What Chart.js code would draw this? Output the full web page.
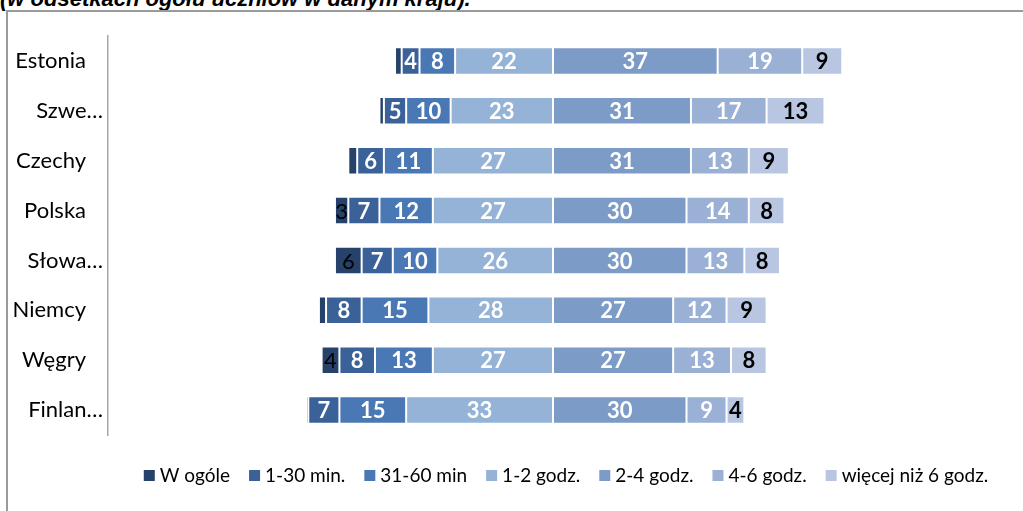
<!DOCTYPE html>
<html>
<head>
<meta charset="utf-8">
<script src="https://cdn.jsdelivr.net/npm/chart.js@4/dist/chart.umd.min.js"></script>
<style>
  html, body { margin: 0; padding: 0; background: #fff; overflow: hidden; width: 1023px; height: 511px; }
  #title { position: absolute; left: 0px; top: -12px; font: bold italic 22px "Liberation Sans", Arial, sans-serif; line-height: 22px; white-space: nowrap; color: #000; }
  #frame { position: absolute; left: 6px; top: 10px; width: 1040px; height: 540px; border: 2px solid #9a9a9a; box-sizing: border-box; }
  #c { position: absolute; left: 0; top: 0; }
</style>
</head>
<body>
<div id="title">(w odsetkach ogółu uczniów w danym kraju).</div>
<div id="frame"></div>
<canvas id="c" width="1023" height="511"></canvas>
<script>
// ---- data ----
const categories = ["Estonia", "Szwecja", "Czechy", "Polska", "Słowacja", "Niemcy", "Węgry", "Finlandia"];
const tickLabels = ["Estonia", "Szwe…", "Czechy", "Polska", "Słowa…", "Niemcy", "Węgry", "Finlan…"];
const seriesNames = ["W ogóle", "1-30 min.", "31-60 min", "1-2 godz.", "2-4 godz.", "4-6 godz.", "więcej niż 6 godz."];
const wOgole   = [1.5, 1, 2, 3, 6, 1.6, 4, 0.5];
const min1_30  = [4, 5, 6, 7, 7, 8, 8, 7];
const min31_60 = [8, 10, 11, 12, 10, 15, 13, 15];
const godz1_2  = [22, 23, 27, 27, 26, 28, 27, 33];
const godz2_4  = [37, 31, 31, 30, 30, 27, 27, 30];
const godz4_6  = [19, 17, 13, 14, 13, 12, 13, 9];
const godz6plus = [9, 13, 9, 8, 8, 9, 8, 4];
const seriesColors = ["#27426a", "#3a6299", "#4a78b4", "#95b3d7", "#7d9bc7", "#9bb0d5", "#b8c6e2"];
const labelColors = ["#000000", "#ffffff", "#ffffff", "#ffffff", "#ffffff", "#ffffff", "#000000"];
const labelWeights = ["normal", "bold", "bold", "bold", "bold", "bold", "bold"];
const xMin = -100, xMax = 100;

const seriesValues = [wOgole, min1_30, min31_60, godz1_2, godz2_4, godz4_6, godz6plus];
const leftSide = [true, true, true, true, false, false, false];

// stacking order: nearest to zero first
const stackOrder = [3, 2, 1, 0, 4, 5, 6];
const datasets = stackOrder.map(i => ({
  label: seriesNames[i],
  seriesIndex: i,
  data: seriesValues[i].map(v => leftSide[i] ? -v : v),
  backgroundColor: seriesColors[i],
  borderColor: "rgba(255,255,255,0.45)",
  borderWidth: 1,
  borderSkipped: false,
  barPercentage: 0.55,
  categoryPercentage: 1.0
}));

const FONT = "Lato, 'Open Sans', sans-serif";

const labelPlugin = {
  id: "customLabels",
  afterDatasetsDraw(chart) {
    const ctx = chart.ctx;
    ctx.save();
    ctx.textAlign = "center";
    ctx.textBaseline = "middle";
    chart.data.datasets.forEach((ds, di) => {
      const meta = chart.getDatasetMeta(di);
      const si = ds.seriesIndex;
      meta.data.forEach((el, j) => {
        const v = Math.abs(ds.data[j]);
        if (v < 3) return;
        const cx = (el.x + el.base) / 2;
        ctx.font = labelWeights[si] + " 22px " + FONT;
        ctx.fillStyle = labelColors[si];
        ctx.fillText(String(Math.round(v)), cx, el.y + 1);
      });
    });
    // category labels
    const ys = chart.scales.y;
    ctx.font = "22px " + FONT;
    ctx.fillStyle = "#000";
    ctx.textAlign = "right";
    tickLabels.forEach((t, j) => {
      const y = ys.getPixelForValue(j);
      const rx = t.endsWith("…") ? 103 : 86;
      ctx.fillText(t, rx, y);
    });
    // legend
    ctx.font = "19px " + FONT;
    ctx.textAlign = "left";
    const box = 11, gap = 5, itemGap = 19;
    let total = 0;
    const widths = seriesNames.map(n => ctx.measureText(n).width);
    widths.forEach((w, i) => { total += box + gap + w + (i < widths.length - 1 ? itemGap : 0); });
    let x = 566 - total / 2;
    const ly = 475.5;
    seriesNames.forEach((n, i) => {
      ctx.fillStyle = seriesColors[i];
      ctx.fillRect(x, ly - box / 2, box, box);
      ctx.fillStyle = "#000";
      ctx.fillText(n, x + box + gap, ly);
      x += box + gap + widths[i] + itemGap;
    });
    ctx.restore();
  }
};

new Chart(document.getElementById("c"), {
  type: "bar",
  data: { labels: categories, datasets },
  options: {
    indexAxis: "y",
    responsive: false,
    animation: false,
    devicePixelRatio: 1,
    layout: { padding: { left: 108, top: 36, right: 25, bottom: 76 } },
    plugins: { legend: { display: false }, tooltip: { enabled: false }, title: { display: false } },
    scales: {
      x: { stacked: true, min: xMin, max: xMax, display: false },
      y: {
        stacked: true,
        display: true,
        ticks: { display: false },
        grid: { display: false, drawTicks: false },
        border: { display: true, color: "#a6a6a6", width: 1.5 }
      }
    }
  },
  plugins: [labelPlugin]
});
</script>
</body>
</html>
